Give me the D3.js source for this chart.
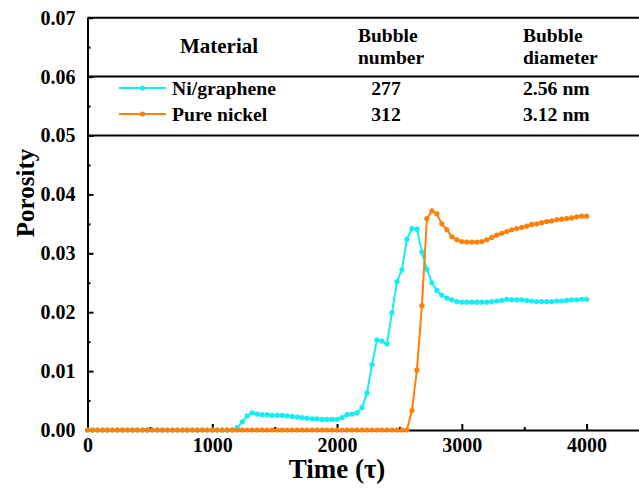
<!doctype html>
<html lang="en">
<head>
  <meta charset="utf-8">
  <title>Porosity vs time</title>
  <style>
    * { margin: 0; padding: 0; box-sizing: border-box; }
    body { background: #fff; }
    svg { display: block; font-family: "Liberation Serif", "Times New Roman", serif; font-weight: bold; }
  </style>
</head>
<body>
  <div id="container"></div>
  <script src="https://cdn.jsdelivr.net/npm/d3@7"></script>
  <script>
    // time steps (tau), one sample every 40
    const time = [
      0, 40, 80, 120, 160, 200, 240, 280, 320, 360, 400, 440, 480, 520, 560, 600, 640, 680, 720, 760,
      800, 840, 880, 920, 960, 1000, 1040, 1080, 1120, 1160, 1200, 1240, 1280, 1320, 1360, 1400, 1440, 1480, 1520, 1560,
      1600, 1640, 1680, 1720, 1760, 1800, 1840, 1880, 1920, 1960, 2000, 2040, 2080, 2120, 2160, 2200, 2240, 2280, 2320, 2360,
      2400, 2440, 2480, 2520, 2560, 2600, 2640, 2680, 2720, 2760, 2800, 2840, 2880, 2920, 2960, 3000, 3040, 3080, 3120, 3160,
      3200, 3240, 3280, 3320, 3360, 3400, 3440, 3480, 3520, 3560, 3600, 3640, 3680, 3720, 3760, 3800, 3840, 3880, 3920, 3960,
      4000
    ];

    const niGraphene = [
      0, 0, 0, 0, 0, 0, 0, 0, 0, 0, 0, 0, 0, 0, 0, 0, 0, 0, 0, 0,
      0, 0, 0, 0, 0, 0, 0, 0, 0, 0, 0.0004, 0.0014, 0.0024, 0.0029, 0.0027, 0.0026, 0.0026, 0.0025, 0.0025, 0.0025,
      0.0024, 0.0023, 0.0022, 0.0021, 0.0020, 0.0019, 0.0019, 0.0018, 0.0018, 0.0018, 0.0018, 0.0021, 0.0026, 0.0027, 0.0029, 0.0038, 0.0063, 0.0111, 0.0153, 0.0151,
      0.0146, 0.0199, 0.0252, 0.0272, 0.0324, 0.0342, 0.0341, 0.0302, 0.0273, 0.0250, 0.0237, 0.0229, 0.0224, 0.0221, 0.0218, 0.0217, 0.0217, 0.0217, 0.0217, 0.0217,
      0.0217, 0.0218, 0.0219, 0.0220, 0.0222, 0.0221, 0.0221, 0.0221, 0.0220, 0.0219, 0.0218, 0.0218, 0.0218, 0.0218, 0.0219, 0.0219, 0.0220, 0.0221, 0.0221, 0.0222,
      0.0222
    ];

    const pureNickel = [
      0, 0, 0, 0, 0, 0, 0, 0, 0, 0, 0, 0, 0, 0, 0, 0, 0, 0, 0, 0,
      0, 0, 0, 0, 0, 0, 0, 0, 0, 0, 0, 0, 0, 0, 0, 0, 0, 0, 0, 0,
      0, 0, 0, 0, 0, 0, 0, 0, 0, 0, 0, 0, 0, 0, 0, 0, 0, 0, 0, 0,
      0, 0, 0, 0, 0, 0.0033, 0.0102, 0.0211, 0.0359, 0.0372, 0.0367, 0.0350, 0.0340, 0.0328, 0.0323, 0.0320, 0.0319, 0.0319, 0.0319, 0.0320,
      0.0323, 0.0327, 0.0331, 0.0334, 0.0337, 0.0340, 0.0342, 0.0344, 0.0346, 0.0349, 0.0350, 0.0352, 0.0354, 0.0355, 0.0357, 0.0358, 0.0359, 0.0360, 0.0362, 0.0363,
      0.0363
    ];

    const xTicks = [0, 1000, 2000, 3000, 4000];
    const yTicks = [0, 0.01, 0.02, 0.03, 0.04, 0.05, 0.06, 0.07];

    // inset table
    const tableHead = ['Material', ['Bubble', 'number'], ['Bubble', 'diameter']];
    const materials = ['Ni/graphene', 'Pure nickel'];
    const bubbleNumber = ['277', '312'];
    const bubbleDiameter = ['2.56 nm', '3.12 nm'];
    const colors = ['#14eef0', '#ff7f0a'];

    const W = 639, H = 489;
    const FONT = '"Liberation Serif", "Times New Roman", serif';
    const svg = d3.select('#container').append('svg')
      .attr('width', W)
      .attr('height', H);

    const x = d3.scaleLinear().domain([0, 4500]).range([87.5, 649]);
    const y = d3.scaleLinear().domain([0, 0.07]).range([430, 17.7]);

    // axes
    svg.append('g').attr('transform', `translate(0,${y(0)})`)
      .call(d3.axisBottom(x).tickValues(xTicks).tickSizeInner(-6).tickSizeOuter(0).tickPadding(8).tickFormat(d3.format('d')));
    svg.append('g').attr('transform', `translate(0,${y(0)})`)
      .call(d3.axisBottom(x).tickValues([500, 1500, 2500, 3500]).tickSizeInner(-3).tickSizeOuter(0).tickFormat(''))
      .select('.domain').remove();

    svg.append('g').attr('transform', `translate(${x(0)},0)`)
      .call(d3.axisLeft(y).tickValues(yTicks).tickSizeInner(-6).tickSizeOuter(0).tickPadding(12).tickFormat(d3.format('.2f')));
    svg.append('g').attr('transform', `translate(${x(0)},0)`)
      .call(d3.axisLeft(y).tickValues([0.005, 0.015, 0.025, 0.035, 0.045, 0.055, 0.065]).tickSizeInner(-3).tickSizeOuter(0).tickFormat(''))
      .select('.domain').remove();

    svg.selectAll('g').attr('font-family', FONT);
    svg.selectAll('.domain, .tick line').attr('stroke', '#000').attr('stroke-width', 2);
    svg.selectAll('.tick text')
      .attr('font-family', FONT)
      .attr('font-weight', 'bold')
      .attr('font-size', 20)
      .attr('fill', '#000');

    // top frame line and table rules
    [0.07, 0.06, 0.05].forEach(v => {
      svg.append('line')
        .attr('x1', x(0)).attr('x2', W)
        .attr('y1', y(v)).attr('y2', y(v))
        .attr('stroke', '#000').attr('stroke-width', 2);
    });

    // series
    const series = [
      { name: materials[0], vals: niGraphene, color: colors[0] },
      { name: materials[1], vals: pureNickel, color: colors[1] }
    ];
    const line = d3.line().x((d, i) => x(time[i])).y(d => y(d));

    series.forEach(s => {
      const g = svg.append('g');
      g.append('path')
        .attr('d', line(s.vals))
        .attr('fill', 'none')
        .attr('stroke', s.color)
        .attr('stroke-width', 2);
      g.selectAll('circle').data(s.vals).enter().append('circle')
        .attr('cx', (d, i) => x(time[i]))
        .attr('cy', d => y(d))
        .attr('r', 2.6)
        .attr('fill', s.color);
    });

    // table header
    svg.append('text').attr('x', 219).attr('y', 53)
      .attr('text-anchor', 'middle').attr('font-size', 21).text(tableHead[0]);
    [[358, tableHead[1]], [523, tableHead[2]]].forEach(([tx, lines]) => {
      lines.forEach((t, i) => {
        svg.append('text').attr('x', tx).attr('y', 42 + i * 22)
          .attr('font-size', 19.5).text(t);
      });
    });

    // legend rows
    materials.forEach((m, i) => {
      const ry = 88 + i * 26;
      svg.append('line').attr('x1', 119).attr('x2', 166).attr('y1', ry).attr('y2', ry)
        .attr('stroke', colors[i]).attr('stroke-width', 2);
      svg.append('circle').attr('cx', 142.5).attr('cy', ry).attr('r', 2.6).attr('fill', colors[i]);
      svg.append('text').attr('x', 172).attr('y', ry + 7).attr('font-size', 19.7).text(m);
      svg.append('text').attr('x', 386).attr('y', ry + 7).attr('text-anchor', 'middle').attr('font-size', 19.7).text(bubbleNumber[i]);
      svg.append('text').attr('x', 523).attr('y', ry + 7).attr('font-size', 19.7).text(bubbleDiameter[i]);
    });

    // axis titles
    svg.append('text')
      .attr('x', 337).attr('y', 478)
      .attr('text-anchor', 'middle').attr('font-size', 27)
      .text('Time (τ)');
    svg.append('text')
      .attr('transform', `translate(34,193) rotate(-90)`)
      .attr('text-anchor', 'middle').attr('font-size', 25)
      .text('Porosity');
  </script>
</body>
</html>
